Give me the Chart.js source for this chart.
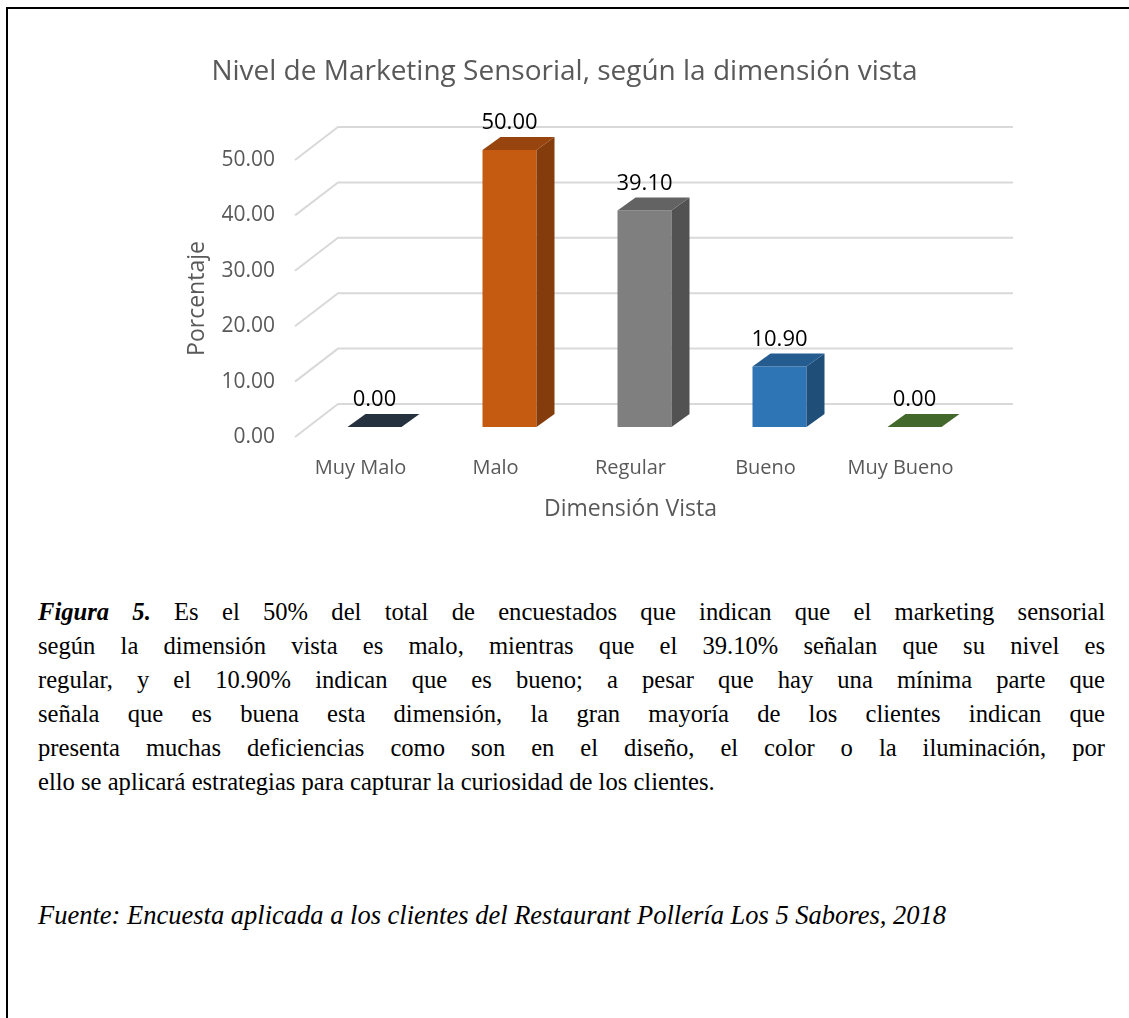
<!DOCTYPE html>
<html lang="es">
<head>
<meta charset="utf-8">
<title>Nivel de Marketing Sensorial</title>
<script src="https://cdn.jsdelivr.net/npm/chart.js@4.4.1/dist/chart.umd.min.js"></script>
<style>
  html, body { margin: 0; padding: 0; background: #fff; }
  body { width: 1129px; height: 1018px; position: relative; overflow: hidden; }
  .frame { position: absolute; left: 6px; top: 7px; width: 1200px; height: 1100px;
           border-top: 2px solid #000; border-left: 2px solid #000; }
  #wrap { position: absolute; left: 0; top: 0; width: 1129px; height: 560px; }
  .caption { position: absolute; left: 38px; top: 595px; width: 1067px;
             font: 24.6px/34px "Liberation Serif", "Times New Roman", serif; color: #000; }
  .caption div { text-align: justify; text-align-last: justify; white-space: nowrap; }
  .caption div.last { text-align-last: left; }
  .fuente { position: absolute; left: 38px; top: 898px;
            font: italic 26.5px/34px "Liberation Serif", "Times New Roman", serif; color: #000; }
</style>
</head>
<body>
<div class="frame"></div>
<div id="wrap"><canvas id="vistaChart"></canvas></div>

<div class="caption">
  <div><b><i>Figura 5.</i></b> Es el 50% del total de encuestados que indican que el marketing sensorial</div>
  <div>según la dimensión vista es malo, mientras que el 39.10% señalan que su nivel es</div>
  <div>regular, y el 10.90% indican que es bueno; a pesar que hay una mínima parte que</div>
  <div>señala que es buena esta dimensión, la gran mayoría de los clientes indican que</div>
  <div>presenta muchas deficiencias como son en el diseño, el color o la iluminación, por</div>
  <div class="last">ello se aplicará estrategias para capturar la curiosidad de los clientes.</div>
</div>
<div class="fuente">Fuente: Encuesta aplicada a los clientes del Restaurant Pollería Los 5 Sabores, 2018</div>

<script>
const categories = ['Muy Malo', 'Malo', 'Regular', 'Bueno', 'Muy Bueno'];
const porcentajes = [0.00, 50.00, 39.10, 10.90, 0.00];
const yTicks = [0, 10, 20, 30, 40, 50];

const frontColors = ['#263140', '#C55A11', '#7F7F7F', '#2E75B6', '#43682B'];
const sideColors = ['#1B232E', '#843C0C', '#525252', '#1F4E79', '#2F4A1E'];
const topColors = ['#263140', '#97440E', '#636363', '#245C90', '#43682B'];

const FONT = 'Open Sans';
const GREY = '#595959';

// back wall offset and the bars' position/depth inside the box
const WALL = { dx: 45, dy: -33 };
const BAR = { dx: 14, dy: -10, depthX: 18, depthY: -13 };

const box3d = {
  id: 'box3d',
  beforeDatasetsDraw(chart) {
    const { ctx, chartArea: a, scales: { y } } = chart;
    ctx.save();
    ctx.strokeStyle = '#D9D9D9';
    ctx.lineWidth = 2;
    y.ticks.forEach(t => {
      const py = y.getPixelForValue(t.value);
      ctx.beginPath();
      ctx.moveTo(a.left + 2, py);
      ctx.lineTo(a.left + WALL.dx, py + WALL.dy);
      ctx.lineTo(a.right + WALL.dx, py + WALL.dy);
      ctx.stroke();
    });
    ctx.restore();
    // bars sit a little back from the front plane
    ctx.save();
    ctx.translate(BAR.dx, BAR.dy);
  },
  afterDatasetsDraw(chart) {
    const { ctx } = chart;
    const meta = chart.getDatasetMeta(0);
    meta.data.forEach((bar, i) => {
      const { x, y, base, width } = bar.getProps(['x', 'y', 'base', 'width'], true);
      const l = x - width / 2;
      const r = x + width / 2;
      if (base - y > 0.5) {
        ctx.fillStyle = sideColors[i];
        ctx.beginPath();
        ctx.moveTo(r, y);
        ctx.lineTo(r + BAR.depthX, y + BAR.depthY);
        ctx.lineTo(r + BAR.depthX, base + BAR.depthY);
        ctx.lineTo(r, base);
        ctx.closePath();
        ctx.fill();
      }
      ctx.fillStyle = topColors[i];
      ctx.beginPath();
      ctx.moveTo(l, y);
      ctx.lineTo(l + BAR.depthX, y + BAR.depthY);
      ctx.lineTo(r + BAR.depthX, y + BAR.depthY);
      ctx.lineTo(r, y);
      ctx.closePath();
      ctx.fill();
    });
    ctx.restore();

    // value labels
    ctx.save();
    ctx.font = '22px "' + FONT + '"';
    ctx.fillStyle = '#000';
    ctx.textAlign = 'center';
    ctx.textBaseline = 'middle';
    meta.data.forEach((bar, i) => {
      ctx.fillText(porcentajes[i].toFixed(2), bar.x + BAR.dx, bar.y + BAR.dy - 27);
    });
    ctx.restore();
  }
};

new Chart(document.getElementById('vistaChart'), {
  type: 'bar',
  data: {
    labels: categories,
    datasets: [{
      data: porcentajes,
      backgroundColor: frontColors,
      borderWidth: 0,
      categoryPercentage: 1,
      barPercentage: 0.4,
      clip: false
    }]
  },
  options: {
    responsive: true,
    maintainAspectRatio: false,
    animation: false,
    layout: { padding: { left: 161, right: 161, top: 0, bottom: 33 } },
    plugins: {
      legend: { display: false },
      tooltip: { enabled: false },
      title: {
        display: true,
        text: 'Nivel de Marketing Sensorial, según la dimensión vista',
        color: GREY,
        font: { family: FONT, size: 28, weight: 'normal' },
        padding: { top: 55.2, bottom: 71.2 }
      }
    },
    scales: {
      x: {
        grid: { display: false, drawTicks: false },
        border: { display: false },
        ticks: { color: GREY, font: { family: FONT, size: 20 }, padding: 19 },
        title: {
          display: true,
          text: 'Dimensión Vista',
          color: GREY,
          font: { family: FONT, size: 23 },
          padding: { top: 0, bottom: 4.2 }
        },
        afterFit: s => { s.height = 90; }
      },
      y: {
        min: 0,
        max: 50,
        grid: { display: false, drawTicks: false },
        border: { display: false },
        afterBuildTicks: s => { s.ticks = yTicks.map(v => ({ value: v })); },
        ticks: {
          color: GREY,
          font: { family: FONT, size: 21 },
          padding: 18,
          callback: v => Number(v).toFixed(2)
        },
        title: {
          display: true,
          text: 'Porcentaje',
          color: GREY,
          font: { family: FONT, size: 23 },
          padding: { top: 22.2, bottom: 0 }
        },
        afterFit: s => { s.width = 132; }
      }
    }
  },
  plugins: [box3d]
});
</script>
</body>
</html>
